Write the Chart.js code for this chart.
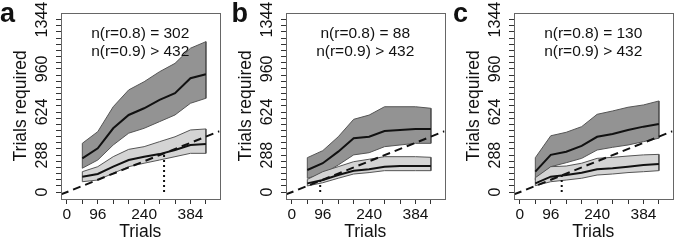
<!DOCTYPE html>
<html>
<head>
<meta charset="utf-8">
<script src="https://cdn.jsdelivr.net/npm/chart.js@4.4.1/dist/chart.umd.min.js"></script>
<style>
  html, body { margin: 0; padding: 0; background: #fff; overflow: hidden; }
  #wrap { position: relative; width: 674px; height: 240px; overflow: hidden; }
  canvas { position: absolute; top: 0; }
</style>
</head>
<body>
<div id="wrap">
  <canvas id="pa" width="224" height="240" style="left:0px"></canvas>
  <canvas id="pb" width="224" height="240" style="left:225px"></canvas>
  <canvas id="pc" width="224" height="240" style="left:453px"></canvas>
</div>
<script>
// sample sizes on the x axis
const trials = [48, 96, 144, 192, 240, 288, 336, 384, 432]

// axis ticks and labels
const xTicks = [0, 48, 96, 144, 192, 240, 288, 336, 384, 432]
const xLabels = [0, 96, 240, 384]
const yTicks = [0, 48, 96, 144, 192, 240, 288, 336, 384, 432, 480, 528, 576, 624, 672,
  720, 768, 816, 864, 912, 960, 1008, 1056, 1104, 1152, 1200, 1248, 1296, 1344]
const yLabels = [0, 288, 624, 960, 1344]

// panel a
const aDarkUpper = [380, 471, 665, 796, 860, 938, 1003, 1121, 1172]
const aDarkMean = [263, 341, 497, 601, 653, 718, 770, 887, 918]
const aDarkLower = [186, 250, 367, 459, 497, 549, 601, 692, 731]
const aLightUpper = [159, 198, 276, 333, 354, 393, 431, 484, 492]
const aLightMean = [120, 141, 198, 250, 276, 296, 328, 367, 375]
const aLightLower = [81, 94, 147, 198, 225, 250, 276, 302, 302]

// panel b
const bDarkUpper = [268, 323, 431, 567, 600, 665, 665, 665, 653]
const bDarkMean = [172, 225, 315, 419, 431, 476, 484, 492, 492]
const bDarkLower = [108, 141, 211, 290, 307, 354, 367, 380, 380]
const bLightUpper = [99, 159, 198, 237, 256, 276, 276, 276, 271]
const bLightMean = [68, 94, 133, 167, 178, 198, 203, 203, 203]
const bLightLower = [48, 73, 108, 141, 152, 167, 167, 167, 167]

// panel c
const cDarkUpper = [268, 439, 466, 510, 606, 632, 661, 679, 710]
const cDarkMean = [159, 290, 315, 360, 431, 453, 484, 510, 530]
const cDarkLower = [94, 198, 229, 263, 328, 349, 367, 393, 420]
const cLightUpper = [112, 198, 203, 225, 263, 271, 281, 290, 294]
const cLightMean = [68, 120, 133, 151, 178, 186, 198, 211, 219]
const cLightLower = [50, 81, 94, 108, 133, 141, 152, 159, 167]

// n where the mean crosses the diagonal
const nCross = { a: 302, b: 88, c: 130 }
const notes = {
  a: ['n(r=0.8) = 302', 'n(r=0.9) > 432'],
  b: ['n(r=0.8) = 88', 'n(r=0.9) > 432'],
  c: ['n(r=0.8) = 130', 'n(r=0.9) > 432']
}

const xMin = -18.24, xMax = 474.24
const yMin = -53.76, yMax = 1397.76
const FONT = '"Liberation Sans", Arial, Helvetica, sans-serif'
Chart.defaults.font.family = FONT

function bandShape(upper, lower) {
  const pts = trials.map((t, i) => ({ x: t, y: upper[i] }))
  for (let i = trials.length - 1; i >= 0; i--) pts.push({ x: trials[i], y: lower[i] })
  pts.push({ x: trials[0], y: upper[0] })
  return pts
}

function series(vals) {
  return trials.map((t, i) => ({ x: t, y: vals[i] }))
}

// box around the plot, the two notes and the panel letter
const framePlugin = {
  id: 'frame',
  afterDraw(chart, args, opts) {
    const { ctx, chartArea: a } = chart
    ctx.save()
    ctx.strokeStyle = '#666'
    ctx.lineWidth = 1
    ctx.strokeRect(Math.round(a.left) + 0.5, Math.round(a.top) + 0.5,
      Math.round(a.right - a.left), Math.round(a.bottom - a.top))
    ctx.fillStyle = '#111'
    ctx.font = '15.5px ' + FONT
    ctx.textAlign = 'center'
    ctx.textBaseline = 'middle'
    const cx = (a.left + a.right) / 2
    opts.lines.forEach((t, i) => ctx.fillText(t, cx, a.top + 20.6 + i * 18.4))
    ctx.font = 'bold 27px ' + FONT
    ctx.textAlign = 'left'
    ctx.textBaseline = 'alphabetic'
    ctx.fillText(opts.letter, opts.letterX, 21.5)
    ctx.restore()
  }
}

function makePanel(id, letter, letterX, d) {
  const n = nCross[letter]
  new Chart(document.getElementById(id), {
    type: 'line',
    data: {
      datasets: [
        { data: bandShape(d.darkUpper, d.darkLower), fill: 'shape', backgroundColor: '#939393',
          borderColor: '#555', borderWidth: 1, order: 8 },
        { data: bandShape(d.lightUpper, d.lightLower), fill: 'shape', backgroundColor: '#d4d4d4',
          borderColor: '#555', borderWidth: 1, order: 7 },
        { data: series(d.darkMean), borderColor: '#111', borderWidth: 2, fill: false, order: 6 },
        { data: series(d.lightMean), borderColor: '#111', borderWidth: 2, fill: false, order: 5 },
        { data: [{ x: xMin, y: xMin }, { x: xMax, y: xMax }], borderColor: '#111', borderWidth: 2,
          borderDash: [8, 5], fill: false, order: 4 },
        { data: [{ x: n, y: 0 }, { x: n, y: n }], borderColor: '#111', borderWidth: 2,
          borderDash: [2, 3], fill: false, order: 3 }
      ]
    },
    options: {
      responsive: false,
      animation: false,
      events: [],
      elements: { point: { radius: 0 }, line: { tension: 0 } },
      layout: { padding: { left: 11, right: 4.5, top: 12.7, bottom: 0 } },
      plugins: {
        legend: { display: false },
        tooltip: { enabled: false },
        frame: { lines: notes[letter], letter: letter, letterX: letterX }
      },
      scales: {
        x: {
          type: 'linear', min: xMin, max: xMax,
          afterBuildTicks: s => { s.ticks = xTicks.map(v => ({ value: v })) },
          afterFit: s => { s.height = 41 },
          border: { display: false },
          grid: { display: true, drawOnChartArea: false, drawTicks: true, tickLength: 5, color: '#333' },
          ticks: {
            autoSkip: false, maxRotation: 0, padding: 1.5, color: '#111', font: { size: 15.5 },
            callback: v => xLabels.includes(v) ? String(v) : ''
          },
          title: { display: true, text: 'Trials', color: '#111', font: { size: 17.5 }, padding: { top: 0, bottom: -3 } }
        },
        y: {
          type: 'linear', min: yMin, max: yMax,
          afterBuildTicks: s => { s.ticks = yTicks.map(v => ({ value: v })) },
          afterFit: s => { s.width = 50 },
          border: { display: false },
          grid: { display: true, drawOnChartArea: false, drawTicks: true, tickLength: 5, color: '#333' },
          ticks: {
            autoSkip: false, minRotation: 90, maxRotation: 90, crossAlign: 'center', padding: -4.5,
            color: '#111', font: { size: 16 },
            callback: v => yLabels.includes(v) ? String(v) : ''
          },
          title: { display: true, text: 'Trials required', color: '#111', font: { size: 17.5 }, padding: { top: 0, bottom: 0 } }
        }
      }
    },
    plugins: [framePlugin]
  })
}

makePanel('pa', 'a', 0, {
  darkUpper: aDarkUpper, darkMean: aDarkMean, darkLower: aDarkLower,
  lightUpper: aLightUpper, lightMean: aLightMean, lightLower: aLightLower
})
makePanel('pb', 'b', 6.5, {
  darkUpper: bDarkUpper, darkMean: bDarkMean, darkLower: bDarkLower,
  lightUpper: bLightUpper, lightMean: bLightMean, lightLower: bLightLower
})
makePanel('pc', 'c', 0, {
  darkUpper: cDarkUpper, darkMean: cDarkMean, darkLower: cDarkLower,
  lightUpper: cLightUpper, lightMean: cLightMean, lightLower: cLightLower
})
</script>
</body>
</html>
